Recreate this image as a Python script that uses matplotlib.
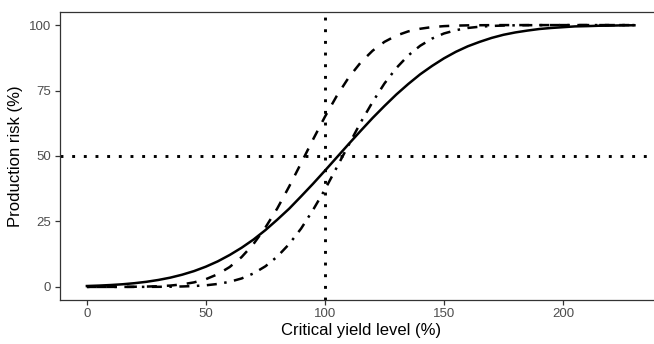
import numpy as np
import matplotlib
matplotlib.use('Agg')
import matplotlib.pyplot as plt

# Nivel de rendimiento crítico (%)
yield_level = list(range(0, 235, 5))

# Riesgo de producción (%)
risk_solid = [0.34, 0.50, 0.72, 1.01, 1.42, 1.95, 2.65, 3.53, 4.66, 6.04,
              7.74, 9.77, 12.2, 14.96, 18.1, 21.7, 25.7, 29.9, 34.6, 39.4,
              44.4, 49.5, 54.6, 59.6, 64.5, 69.1, 73.5, 77.5, 81.2, 84.4,
              87.3, 89.8, 91.9, 93.6, 95.1, 96.3, 97.2, 97.9, 98.5, 98.9,
              99.2, 99.5, 99.6, 99.75, 99.8, 99.9, 99.93]
risk_dashed = [0.0, 0.0, 0.01, 0.03, 0.06, 0.13, 0.26, 0.51, 0.96, 1.73,
               2.96, 4.86, 7.61, 11.4, 16.4, 22.7, 30.0, 38.4, 47.3, 56.3,
               65.0, 73.0, 80.0, 85.7, 90.2, 93.6, 96.0, 97.6, 98.6, 99.25,
               99.6, 99.8, 99.9, 99.95, 99.98, 100, 100, 100, 100, 100,
               100, 100, 100, 100, 100, 100, 100]
risk_dotdash = [0.0, 0.0, 0.0, 0.0, 0.0, 0.02, 0.04, 0.08, 0.17, 0.33,
                0.62, 1.13, 1.95, 3.23, 5.15, 7.88, 11.6, 16.4, 22.3, 29.4,
                37.2, 45.7, 54.3, 62.8, 70.6, 77.7, 83.6, 88.4, 92.1, 94.85,
                96.8, 98.05, 98.9, 99.38, 99.67, 99.83, 99.92, 99.96, 99.98, 100,
                100, 100, 100, 100, 100, 100, 100]

ref_x = 100
ref_y = 50

plt.rcParams['font.family'] = ['Liberation Sans', 'DejaVu Sans']

fig = plt.figure(figsize=(6.54, 3.44), dpi=100)
# El panel se sale un poco por la derecha, como en la original
ax = fig.add_axes([59.5 / 654, 44 / 344, 602.3 / 654, 288 / 344])

ax.plot(yield_level, risk_solid, color='black', lw=1.8, linestyle='-')
ax.plot(yield_level, risk_dashed, color='black', lw=1.8, linestyle=(0, (4, 4)))
ax.plot(yield_level, risk_dotdash, color='black', lw=1.8, linestyle=(0, (1, 3, 4, 3)))

ax.axvline(ref_x, color='black', lw=2.1, linestyle=(0, (1, 3)))
ax.axhline(ref_y, color='black', lw=2.1, linestyle=(0, (1, 3)))

ax.set_xlim(-11.5, 241.5)
ax.set_ylim(-5, 105)
ax.set_xticks([0, 50, 100, 150, 200])
ax.set_yticks([0, 25, 50, 75, 100])

for s in ax.spines.values():
    s.set_color('#333333')
    s.set_linewidth(0.9)

ax.tick_params(colors='#333333', labelcolor='#4D4D4D', labelsize=9.5,
               length=3.5, width=0.9, pad=2.5)

ax.set_xlabel('Critical yield level (%)', fontsize=12, color='black', labelpad=2)
ax.set_ylabel('Production risk (%)', fontsize=12, color='black', labelpad=4)

fig.savefig('out.png', dpi=100)
